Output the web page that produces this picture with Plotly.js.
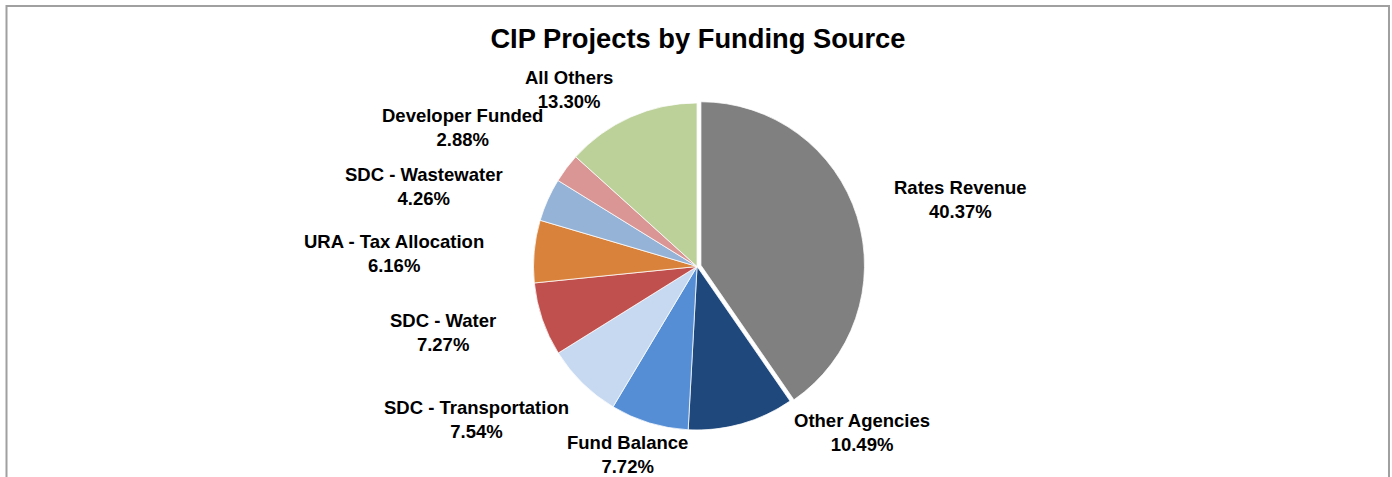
<!DOCTYPE html>
<html>
<head>
<meta charset="utf-8">
<script src="https://cdn.plot.ly/plotly-3.0.1.min.js"></script>
<style>
html,body{margin:0;padding:0;background:#fff;}
#chart{width:1392px;height:477px;}
</style>
</head>
<body>
<div id="chart"></div>
<script>
// ---- data ----
const categories = ["Rates Revenue","Other Agencies","Fund Balance","SDC - Transportation","SDC - Water","URA - Tax Allocation","SDC - Wastewater","Developer Funded","All Others"];
const shares = [40.37,10.49,7.72,7.54,7.27,6.16,4.26,2.88,13.30];
const chartTitle = "CIP Projects by Funding Source";

// ---- styles / layout (kept apart from the data) ----
const sliceColors = ["#808080","#1F497D","#558ED5","#C6D9F1","#C0504D","#D9823B","#95B3D7","#D99694","#BCD09A"];
const pulls = [0.025,0,0,0,0,0,0,0,0];
// data-label placement (paper coordinates, label block centres), as Excel's best-fit put them
const labelX = [0.6897,0.6193,0.4508,0.3424,0.3182,0.2830,0.3046,0.3319,0.4088];
const labelY = [0.5828,0.0943,0.0482,0.1195,0.3019,0.4696,0.6080,0.7317,0.8134];
const FONT = "Liberation Sans, Arial, sans-serif";

const trace = {
  type: "pie",
  labels: categories,
  values: shares,
  sort: false,
  direction: "clockwise",
  rotation: 0,
  pull: pulls,
  marker: {colors: sliceColors, line: {color: "#ffffff", width: 0.75}},
  textinfo: "none",
  hoverinfo: "label+percent",
  showlegend: false,
  domain: {x: [0.35, 0.6515], y: [0.0899, 0.7927]}
};

const annotations = categories.map((c, i) => ({
  xref: "paper", yref: "paper",
  x: labelX[i], y: labelY[i],
  xanchor: "center", yanchor: "middle",
  align: "center",
  showarrow: false,
  text: "<b>" + c + "<br>" + shares[i].toFixed(2) + "%</b>",
  font: {family: FONT, size: 18.5, color: "#000000"}
}));

const layout = {
  width: 1392,
  height: 477,
  margin: {l: 0, r: 0, t: 0, b: 0},
  paper_bgcolor: "#ffffff",
  showlegend: false,
  title: {
    text: "<b>" + chartTitle + "</b>",
    x: 0.5014, xanchor: "center",
    y: 0.92, yanchor: "middle",
    font: {family: FONT, size: 27.3, color: "#000000"}
  },
  annotations: annotations,
  shapes: [{
    type: "rect", xref: "paper", yref: "paper",
    x0: 0.00467, x1: 0.99784, y0: -0.05, y1: 0.9874,
    line: {color: "#A0A0A0", width: 2}
  }]
};

Plotly.newPlot("chart", [trace], layout, {displayModeBar: false, staticPlot: true});
</script>
</body>
</html>
